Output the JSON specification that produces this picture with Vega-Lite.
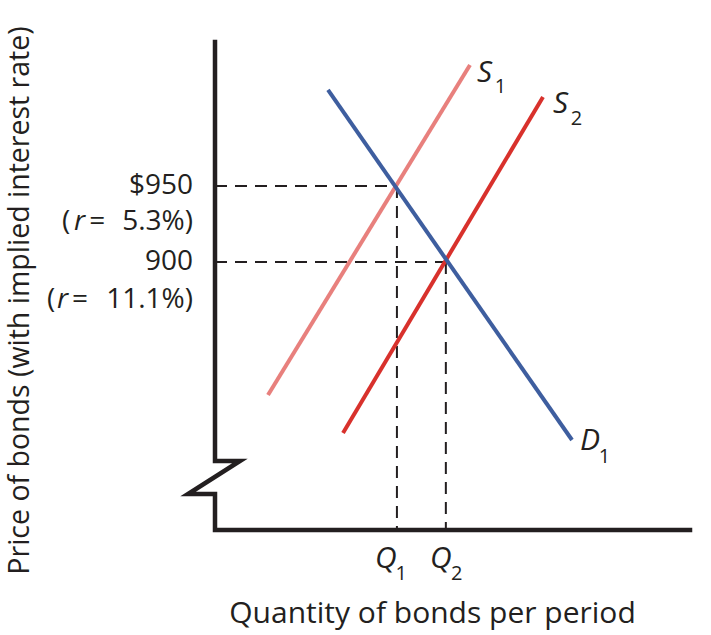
{
  "$schema": "https://vega.github.io/schema/vega-lite/v6.json",
  "width": 475,
  "height": 488,
  "autosize": "none",
  "padding": {"left": 215, "top": 42, "right": 21, "bottom": 105},
  "background": "white",
  "config": {"view": {"stroke": null}, "font": "Open Sans"},
  "datasets": {
    "axisline": [
      {"o": 1, "q": 0, "p": 1044.75},
      {"o": 2, "q": 0, "p": 769.1},
      {"o": 3, "q": 5.26, "p": 769.1},
      {"o": 4, "q": -5.68, "p": 747.4},
      {"o": 5, "q": 0, "p": 747.4},
      {"o": 6, "q": 0, "p": 723.7},
      {"o": 7, "q": 100, "p": 723.7}
    ],
    "dashes": [
      {"q1": 0, "p1": 950, "q2": 38.3, "p2": 950},
      {"q1": 38.3, "p1": 950, "q2": 38.3, "p2": 723.7},
      {"q1": 0, "p1": 900, "q2": 48.6, "p2": 900},
      {"q1": 48.6, "p1": 900, "q2": 48.6, "p2": 723.7}
    ],
    "curves": [
      {"curve": "S1", "q": 11.16, "p": 812.5},
      {"curve": "S1", "q": 53.68, "p": 1029.6},
      {"curve": "S2", "q": 26.95, "p": 787.5},
      {"curve": "S2", "q": 69.05, "p": 1008.6},
      {"curve": "D1", "q": 23.79, "p": 1013.2},
      {"curve": "D1", "q": 75.16, "p": 782.9}
    ],
    "italicMain": [
      {"t": "S", "q": 55.16, "p": 1018.4},
      {"t": "S", "q": 71.16, "p": 998.0},
      {"t": "D", "q": 76.84, "p": 776.3},
      {"t": "Q", "q": 33.68, "p": 698.7},
      {"t": "Q", "q": 45.26, "p": 698.7}
    ],
    "subs": [
      {"t": "1", "q": 58.9, "p": 1011.2},
      {"t": "2", "q": 74.9, "p": 990.1},
      {"t": "1", "q": 80.8, "p": 767.8},
      {"t": "1", "q": 38.0, "p": 690.8},
      {"t": "2", "q": 49.7, "p": 690.8}
    ],
    "rightLabels": [
      {"t": "$950", "q": -4.63, "p": 950},
      {"t": "900", "q": -4.63, "p": 900},
      {"t": "5.3%)", "q": -4.63, "p": 926.3},
      {"t": "11.1%)", "q": -4.63, "p": 875}
    ],
    "leftLabels": [
      {"t": "(", "q": -32.21, "p": 926.3},
      {"t": "=", "q": -26.5, "p": 926.3},
      {"t": "(", "q": -35.37, "p": 875},
      {"t": "=", "q": -30.11, "p": 875}
    ],
    "rs": [
      {"t": "r", "q": -29.7, "p": 926.3},
      {"t": "r", "q": -33.26, "p": 875}
    ]
  },
  "layer": [
    {
      "data": {"name": "axisline"},
      "mark": {"type": "line", "color": "#231f20", "strokeWidth": 4.5, "strokeJoin": "miter", "strokeCap": "square", "clip": false},
      "encoding": {
        "x": {"field": "q", "type": "quantitative", "scale": {"domain": [0, 100], "nice": false, "zero": false},
          "axis": {"title": "Quantity of bonds per period", "labels": false, "ticks": false, "domain": false, "grid": false,
            "titleFontSize": 30, "titleFont": "Open Sans", "titleFontWeight": "normal", "titleColor": "#231f20",
            "titleX": 217, "titleY": 92, "titleBaseline": "alphabetic", "titleAlign": "center"}},
        "y": {"field": "p", "type": "quantitative", "scale": {"domain": [723.7, 1044.75], "nice": false, "zero": false},
          "axis": {"title": "Price of bonds (with implied interest rate)", "labels": false, "ticks": false, "domain": false, "grid": false,
            "titleFontSize": 28.5, "titleFont": "Open Sans", "titleFontWeight": "normal", "titleColor": "#231f20",
            "titleX": -196, "titleY": 258, "titleAngle": -90, "titleBaseline": "middle", "titleAlign": "center"}},
        "order": {"field": "o", "type": "quantitative"}
      }
    },
    {
      "data": {"name": "dashes"},
      "mark": {"type": "rule", "color": "#231f20", "strokeWidth": 2, "strokeDash": [12, 8]},
      "encoding": {
        "x": {"field": "q1", "type": "quantitative"},
        "y": {"field": "p1", "type": "quantitative"},
        "x2": {"field": "q2"},
        "y2": {"field": "p2"}
      }
    },
    {
      "data": {"name": "curves"},
      "mark": {"type": "line", "strokeWidth": 4},
      "encoding": {
        "x": {"field": "q", "type": "quantitative"},
        "y": {"field": "p", "type": "quantitative"},
        "color": {"field": "curve", "type": "nominal", "scale": {"domain": ["S1", "S2", "D1"], "range": ["#e8807d", "#d8312c", "#3e5e9f"]}, "legend": null}
      }
    },
    {
      "data": {"name": "italicMain"},
      "mark": {"type": "text", "font": "Open Sans", "fontSize": 30, "fontStyle": "italic", "align": "left", "baseline": "alphabetic", "color": "#231f20", "clip": false},
      "encoding": {
        "x": {"field": "q", "type": "quantitative"},
        "y": {"field": "p", "type": "quantitative"},
        "text": {"field": "t"}
      }
    },
    {
      "data": {"name": "subs"},
      "mark": {"type": "text", "font": "Open Sans", "fontSize": 20, "align": "left", "baseline": "alphabetic", "color": "#231f20", "clip": false},
      "encoding": {
        "x": {"field": "q", "type": "quantitative"},
        "y": {"field": "p", "type": "quantitative"},
        "text": {"field": "t"}
      }
    },
    {
      "data": {"name": "rightLabels"},
      "mark": {"type": "text", "font": "Open Sans", "fontSize": 28, "align": "right", "baseline": "middle", "color": "#231f20", "clip": false},
      "encoding": {
        "x": {"field": "q", "type": "quantitative"},
        "y": {"field": "p", "type": "quantitative"},
        "text": {"field": "t"}
      }
    },
    {
      "data": {"name": "leftLabels"},
      "mark": {"type": "text", "font": "Open Sans", "fontSize": 28, "align": "left", "baseline": "middle", "color": "#231f20", "clip": false},
      "encoding": {
        "x": {"field": "q", "type": "quantitative"},
        "y": {"field": "p", "type": "quantitative"},
        "text": {"field": "t"}
      }
    },
    {
      "data": {"name": "rs"},
      "mark": {"type": "text", "font": "Open Sans", "fontSize": 28, "fontStyle": "italic", "align": "left", "baseline": "middle", "color": "#231f20", "clip": false},
      "encoding": {
        "x": {"field": "q", "type": "quantitative"},
        "y": {"field": "p", "type": "quantitative"},
        "text": {"field": "t"}
      }
    }
  ]
}
